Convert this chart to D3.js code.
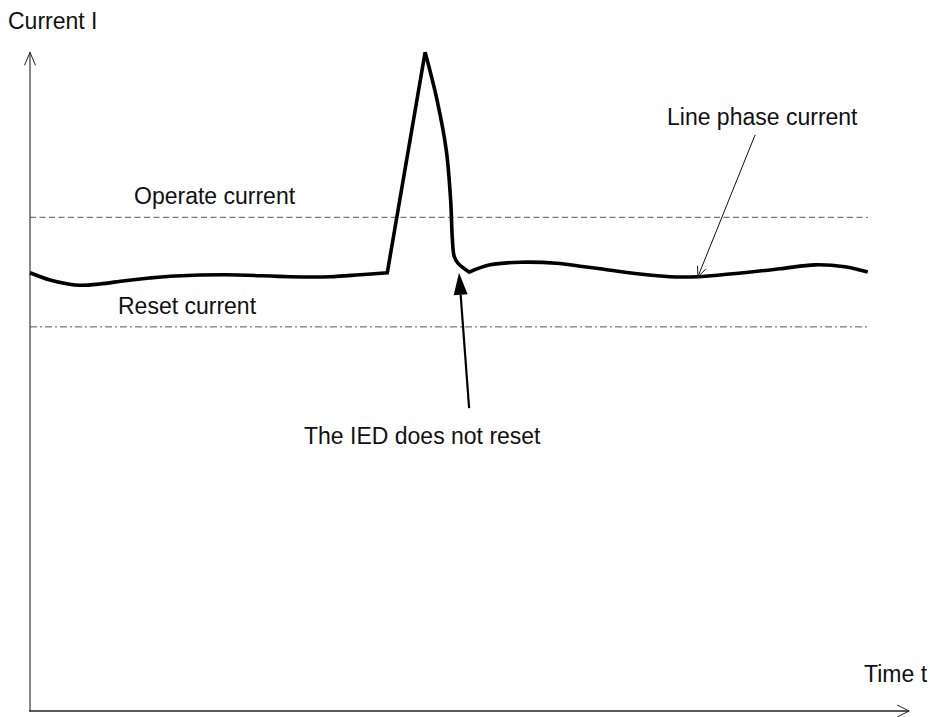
<!DOCTYPE html>
<html>
<head>
<meta charset="utf-8">
<script src="https://cdn.jsdelivr.net/npm/d3@7"></script>
<style>
  html, body { margin: 0; padding: 0; background: #fff; }
  svg { display: block; }
  text { font-family: "Liberation Sans", Arial, sans-serif; font-size: 23px; fill: #111; }
</style>
</head>
<body>
<svg id="chart" width="930" height="717"></svg>
<script>
// Line phase current over time (arbitrary units)
const time    = [0, 2.27, 4.32, 5.68, 7.95, 10.8, 13.6, 16.5, 22.2, 29.5, 34.1, 37.5, 40.6,
                 44.9, 46.25, 47.3, 47.8, 48.0, 48.2, 48.6, 49.9,
                 52.3, 55.7, 60.2, 62.5, 64.8, 69.3, 72.7, 75.9, 79.5, 85.2, 89.2, 92.6, 95.2];
const current = [66.4, 65.3, 64.7, 64.5, 64.7, 65.2, 65.6, 65.9, 66.1, 65.8, 65.8, 66.1, 66.4,
                 99.8, 92.6, 85.0, 77.4, 71.4, 68.9, 67.9, 66.5,
                 67.6, 68.0, 67.8, 67.4, 67.0, 66.2, 65.8, 65.8, 66.2, 67.0, 67.6, 67.3, 66.5];
// Indices where the trace has a sharp corner (spike base, spike peak, post-spike dip)
const corners = [12, 13, 20];

// Pick-up thresholds
const operateLevel = 74.8;
const resetLevel = 58.2;
const thresholdEnd = 95.2;

// Annotations: [tailT, tailI, tipT, tipI]
const phaseArrow = [82.4, 87.3, 75.9, 65.8];
const iedArrow   = [49.9, 45.9, 48.75, 66.4];

const svg = d3.select("#chart");
const x = d3.scaleLinear().domain([0, 100]).range([30, 910]);
const y = d3.scaleLinear().domain([0, 100]).range([711, 51]);

// Axes
svg.append("line").attr("x1", x(0)).attr("y1", y(0)).attr("x2", x(0)).attr("y2", y(99.8))
  .attr("stroke", "#7a7a7a").attr("stroke-width", 1.8);
svg.append("line").attr("x1", x(0) - 1).attr("y1", y(0)).attr("x2", x(99.9)).attr("y2", y(0))
  .attr("stroke", "#222").attr("stroke-width", 1.6);

// Open arrowheads on the axes
const yTip = [x(0), y(99.8)];
svg.append("path")
  .attr("d", `M${yTip[0] - 5.5},${yTip[1] + 13} L${yTip[0]},${yTip[1]} L${yTip[0] + 5.5},${yTip[1] + 13}`)
  .attr("fill", "none").attr("stroke", "#222").attr("stroke-width", 1);
const xTip = [x(99.9), y(0)];
svg.append("path")
  .attr("d", `M${xTip[0] - 12},${xTip[1] - 6} L${xTip[0]},${xTip[1]} L${xTip[0] - 12},${xTip[1] + 6}`)
  .attr("fill", "none").attr("stroke", "#222").attr("stroke-width", 1);

// Threshold lines
svg.append("line").attr("x1", x(0)).attr("x2", x(thresholdEnd))
  .attr("y1", y(operateLevel)).attr("y2", y(operateLevel))
  .attr("stroke", "#555").attr("stroke-width", 1).attr("stroke-dasharray", "6,3.5");
svg.append("line").attr("x1", x(0)).attr("x2", x(thresholdEnd))
  .attr("y1", y(resetLevel)).attr("y2", y(resetLevel))
  .attr("stroke", "#555").attr("stroke-width", 1).attr("stroke-dasharray", "7,3,2,3");

// Current trace: smooth pieces joined at the sharp corners
const pts = time.map((t, i) => [t, current[i]]);
const bounds = [0, ...corners, pts.length - 1];
const smooth = d3.line().x(d => x(d[0])).y(d => y(d[1])).curve(d3.curveCatmullRom.alpha(0.5));
const straight = d3.line().x(d => x(d[0])).y(d => y(d[1]));
let dStr = "";
for (let k = 0; k < bounds.length - 1; k++) {
  const seg = pts.slice(bounds[k], bounds[k + 1] + 1);
  const gen = seg.length === 2 ? straight : smooth;
  const piece = gen(seg);
  dStr += k === 0 ? piece : piece.replace(/^M[^LC]*/, "");
}
svg.append("path").attr("d", dStr).attr("fill", "none")
  .attr("stroke", "#000").attr("stroke-width", 3.6)
  .attr("stroke-linejoin", "miter").attr("stroke-linecap", "butt");

// Annotation: line phase current (open arrowhead)
{
  const [t0, i0, t1, i1] = phaseArrow;
  const x0 = x(t0), y0 = y(i0), x1 = x(t1), y1 = y(i1);
  svg.append("line").attr("x1", x0).attr("y1", y0).attr("x2", x1).attr("y2", y1)
    .attr("stroke", "#111").attr("stroke-width", 1);
  const ang = Math.atan2(y1 - y0, x1 - x0), L = 11, w = 0.42;
  const a = [x1 - L * Math.cos(ang - w), y1 - L * Math.sin(ang - w)];
  const b = [x1 - L * Math.cos(ang + w), y1 - L * Math.sin(ang + w)];
  svg.append("path").attr("d", `M${a[0]},${a[1]} L${x1},${y1} L${b[0]},${b[1]}`)
    .attr("fill", "none").attr("stroke", "#111").attr("stroke-width", 1);
}

// Annotation: the IED does not reset (filled arrowhead)
{
  const [t0, i0, t1, i1] = iedArrow;
  const x0 = x(t0), y0 = y(i0), x1 = x(t1), y1 = y(i1);
  const ang = Math.atan2(y1 - y0, x1 - x0), L = 22, hw = 7;
  const bx = x1 - L * Math.cos(ang), by = y1 - L * Math.sin(ang);
  svg.append("line").attr("x1", x0).attr("y1", y0).attr("x2", bx).attr("y2", by)
    .attr("stroke", "#000").attr("stroke-width", 2.2);
  const px = -Math.sin(ang) * hw, py = Math.cos(ang) * hw;
  svg.append("path")
    .attr("d", `M${x1},${y1} L${bx + px},${by + py} L${bx - px},${by - py} Z`)
    .attr("fill", "#000");
}

// Labels
const labels = [
  { text: "Current I", x: 8, y: 29 },
  { text: "Time t", x: 864, y: 682 },
  { text: "Operate current", x: 134, y: 204 },
  { text: "Reset current", x: 118, y: 314 },
  { text: "Line phase current", x: 667, y: 125 },
  { text: "The IED does not reset", x: 304, y: 444 }
];
svg.selectAll("text.lbl").data(labels).enter().append("text")
  .attr("class", "lbl").attr("x", d => d.x).attr("y", d => d.y).text(d => d.text);
</script>
</body>
</html>
